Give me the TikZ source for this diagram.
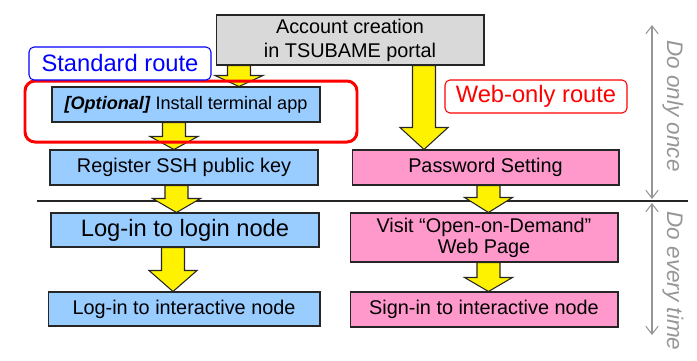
\documentclass[tikz,border=0pt]{standalone}
\usepackage{fontspec}
\setmainfont{Liberation Sans}
\usetikzlibrary{arrows.meta, backgrounds, calc}

\definecolor{stdblue}{RGB}{153,204,255}
\definecolor{webpink}{RGB}{255,153,204}
\definecolor{portalgray}{RGB}{217,217,217}
\definecolor{edgegray}{RGB}{38,38,38}
\definecolor{notegray}{RGB}{150,150,150}

% yellow block arrow: centre x, from node, to node, head length (px)
\newcommand{\bigarrow}[4]{%
  \draw[flow] let \p1=(#2.south), \p2=(#3.north) in
    (#1-11.5,\y1) -- (#1+11.5,\y1) -- (#1+11.5,\y2+#4*0.569pt)
    -- (#1+24,\y2+#4*0.569pt) -- (#1,\y2) -- (#1-24,\y2+#4*0.569pt)
    -- (#1-11.5,\y2+#4*0.569pt) -- cycle;}

\tikzset{
  box/.style={draw=edgegray, line width=0.6pt, minimum width=5.36cm,
    minimum height=0.7cm, inner sep=0pt, align=center,
    font=\fontsize{11.3}{13.6}\selectfont},
  stdbox/.style={box, fill=stdblue},
  webbox/.style={box, fill=webpink},
  route/.style={fill=white, rounded corners=0.1cm, line width=0.6pt,
    minimum width=3.64cm, minimum height=0.66cm, inner sep=0pt,
    font=\fontsize{13.5}{16}\selectfont},
  flow/.style={draw=edgegray, fill=yellow, line width=0.6pt},
  span/.style={draw=notegray, line width=0.6pt, <->,
    >={Straight Barb[length=4.5pt,width=7pt]}},
  note/.style={text=notegray, rotate=-90,
    font=\fontsize{12.8}{15}\selectfont\itshape}
}

\begin{document}
\begin{tikzpicture}[x=0.02cm, y=-0.02cm]
  \useasboundingbox (0,0) rectangle (697,360);

  \node[box, fill=portalgray, minimum height=1cm] (portal) at (350,40)
    {Account creation\\in TSUBAME portal};

  % standard route
  \node[stdbox, font=\fontsize{10.3}{12}\selectfont] (optional) at (186,104.5)
    {\textbf{\textit{[Optional]}} Install terminal app};
  \node[stdbox] (ssh) at (184,167.5) {Register SSH public key};
  \node[stdbox, minimum height=0.68cm, font=\fontsize{13.5}{16}\selectfont]
    (login) at (185,230) {Log-in to login node};
  \node[stdbox, minimum width=5.44cm, minimum height=0.68cm] (inter) at (184,309)
    {Log-in to interactive node};

  % web-only route
  \node[webbox, minimum width=5.34cm] (pwd) at (485.5,167.5) {Password Setting};
  \node[webbox, minimum height=0.98cm, font=\fontsize{11.3}{12}\selectfont]
    (visit) at (484,237.5) {Visit “Open-on-Demand”\\Web Page};
  \node[webbox] (signin) at (484,309.5) {Sign-in to interactive node};

  \begin{scope}[on background layer]
    \draw[edgegray, line width=0.6pt] (37,201) -- (688,201);
    \bigarrow{239}{portal}{optional}{11}
    \bigarrow{174}{optional}{ssh}{13}
    \bigarrow{424}{portal}{pwd}{22}
    \bigarrow{176.5}{ssh}{login}{14}
    \bigarrow{173}{login}{inter}{21}
    \bigarrow{488.5}{pwd}{visit}{15}
    \bigarrow{488.5}{visit}{signin}{14}
  \end{scope}

  \draw[red, line width=1.7pt, rounded corners=0.2cm] (25,81) rectangle (357,142);

  \node[route, draw=blue, text=blue] (stdroute) at (120,63.5) {Standard route};
  \node[route, draw=red, text=red] (webroute) at (536,96.5) {Web-only route};

  % once / every time
  \coordinate (oncetop) at (652,25);
  \coordinate (onceend) at (652,199);
  \coordinate (everytop) at (652,203);
  \coordinate (everyend) at (652,335);
  \draw[span] (oncetop) -- (onceend);
  \draw[span] (everytop) -- (everyend);
  \node[note] (once) at (673,106) {Do only once};
  \node[note] (every) at (673,281) {Do every time};
\end{tikzpicture}
\end{document}
